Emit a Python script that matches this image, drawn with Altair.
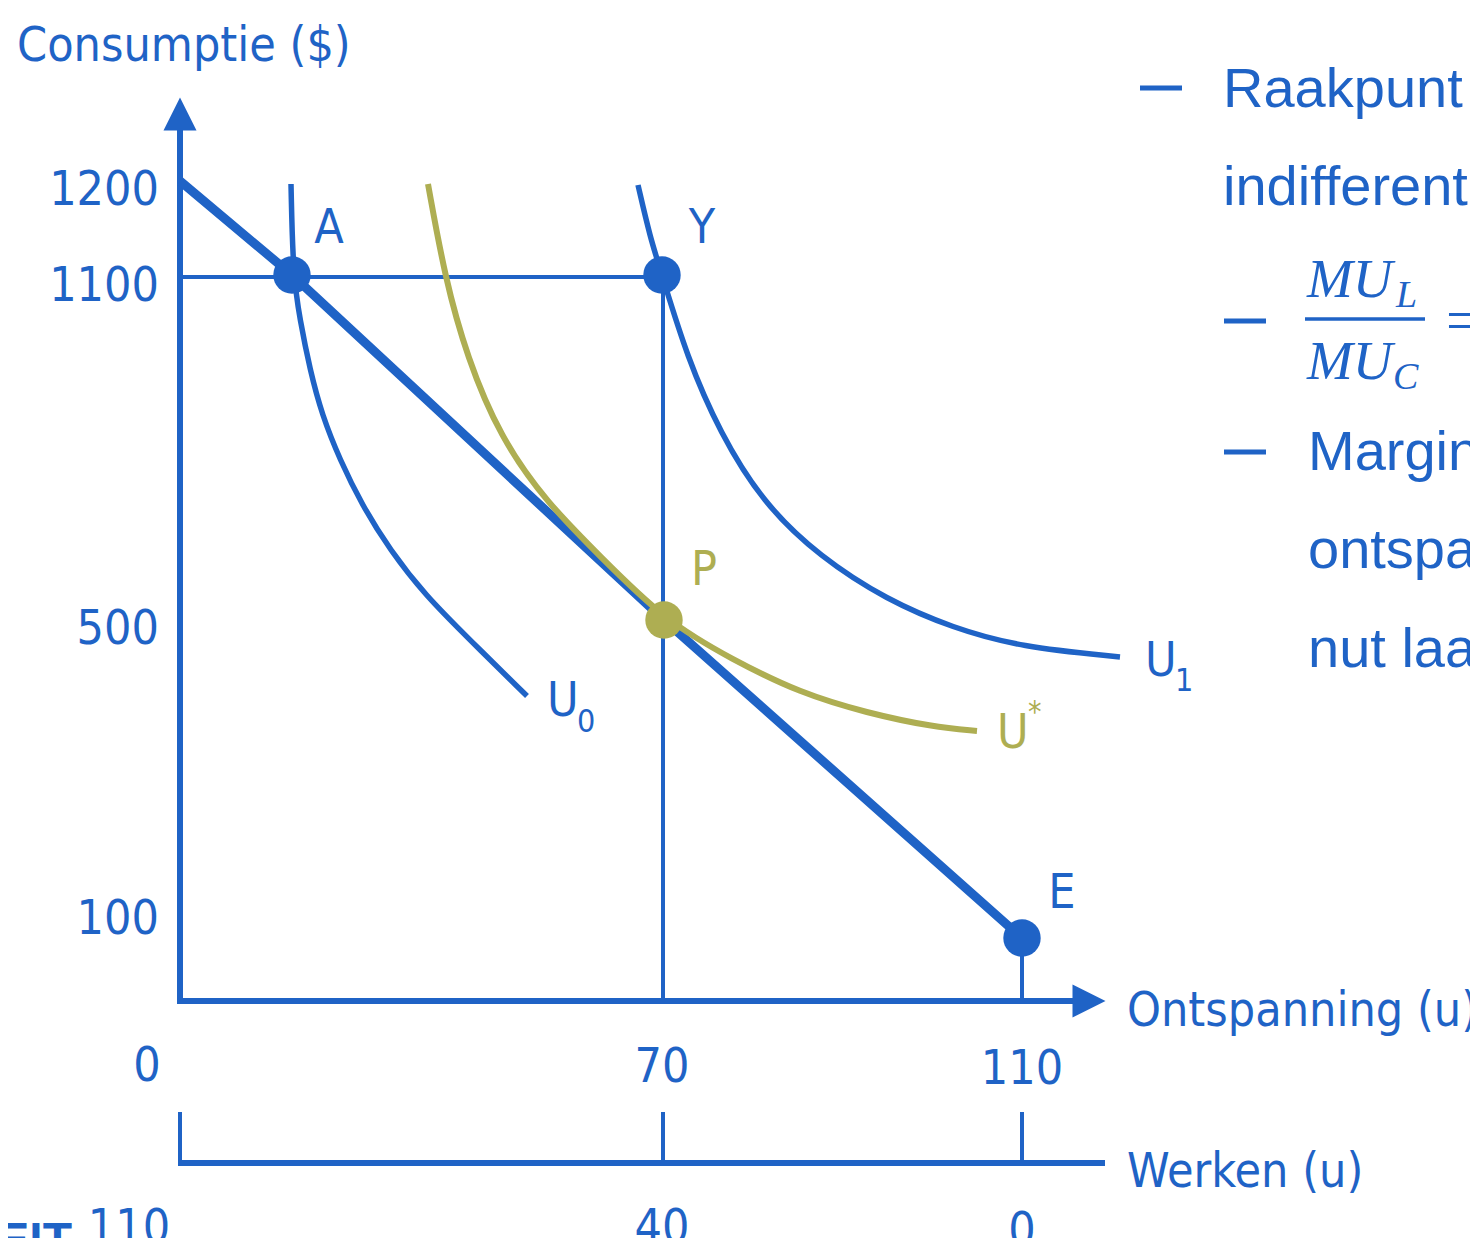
import altair as alt
import pandas as pd

BLUE = "#1F63C6"
OLIVE = "#AEAE52"
NARROW = "DejaVu Sans Condensed"
SANS = "Liberation Sans"
SERIF = "Liberation Serif"

# ---------- data: diagram coordinates (x to the right, y downward) ----------
budget_x = [180, 292, 664, 1022]
budget_y = [181, 275, 620, 938]

u0_x = [291, 293, 300, 310, 322, 340, 362, 390, 425, 470, 527]
u0_y = [184, 275, 320, 370, 415, 460, 505, 550, 595, 640, 696]

u1_x = [638, 650, 662, 687, 720, 763, 820, 887, 953, 1020, 1120]
u1_y = [185, 237, 275, 357, 433, 503, 557, 600, 628, 647, 657]

ustar_x = [428, 445, 467, 500, 547, 600, 664, 733, 800, 867, 933, 977]
ustar_y = [184, 278, 357, 437, 503, 556, 620, 660, 693, 713, 727, 731]

dot_names = ["A", "Y", "E"]
dot_x = [292, 662, 1022]
dot_y = [275, 275, 938]
p_name, p_x, p_y = ["P"], [664], [620]

# axis lines: x0, x1, y0, y1
axis_x0 = [180, 177, 178]
axis_x1 = [180, 1078, 1105]
axis_y0 = [1003, 1001, 1163]
axis_y1 = [125, 1001, 1163]

# guide lines and the ticks of the Werken axis
guide_x0 = [180, 663, 1022, 180, 663, 1022]
guide_x1 = [662, 663, 1022, 180, 663, 1022]
guide_y0 = [277, 277, 938, 1112, 1112, 1112]
guide_y1 = [277, 1001, 1001, 1163, 1163, 1163]

arrow_x = [180, 1089]
arrow_y = [114, 1001]

# tick labels
cons_labels = ["1200", "1100", "500", "100"]
cons_base = [205, 301, 644, 934]
ont_labels = ["0", "70", "110"]
ont_pos = [147, 662, 1022]
ont_base = [1081, 1082, 1084]
werk_labels = ["110", "40", "0"]
werk_pos = [129, 662, 1022]
werk_base = [1243, 1243, 1246]

# right-hand bullet text
bullet_dash_x0 = [1140, 1224, 1224]
bullet_dash_x1 = [1182, 1266, 1266]
bullet_dash_y = [88, 321, 452]
bullet_text = ["Raakpunt van", "indifferentiecurve", "Marginaal nut van", "ontspanning", "nut laag"]
bullet_x = [1223, 1223, 1308, 1308, 1308]
bullet_base = [107, 205, 470, 568, 667]


def df(**cols):
    return pd.DataFrame(cols)


X = alt.Scale(domain=[8, 1470])
Y = alt.Scale(domain=[8, 1238], reverse=True)


def xy(data, xcol="x", ycol="y"):
    return dict(x=alt.X(f"{xcol}:Q", scale=X, axis=None), y=alt.Y(f"{ycol}:Q", scale=Y, axis=None))


def line(xs, ys, color, width, interp="linear"):
    d = df(x=xs, y=ys, o=list(range(len(xs))))
    return alt.Chart(d).mark_line(color=color, strokeWidth=width, interpolate=interp, strokeCap="butt").encode(
        **xy(d), order="o:Q")


def rules(x0, x1, y0, y1, width, color=BLUE):
    d = df(x=x0, x2=x1, y=y0, y2=y1)
    return alt.Chart(d).mark_rule(color=color, strokeWidth=width, strokeCap="butt").encode(
        x=alt.X("x:Q", scale=X, axis=None), x2="x2:Q",
        y=alt.Y("y:Q", scale=Y, axis=None), y2="y2:Q")


def text(ts, xs, ys, size, align="left", color=BLUE, font=NARROW, style="normal", weight="normal"):
    d = df(t=ts, x=xs, y=ys)
    return alt.Chart(d).mark_text(align=align, baseline="alphabetic", font=font, fontSize=size,
                                  color=color, fontStyle=style, fontWeight=weight).encode(
        **xy(d), text="t:N")


layers = []
# guides and axes
layers.append(rules(guide_x0, guide_x1, guide_y0, guide_y1, 4))
layers.append(rules(axis_x0, axis_x1, axis_y0, axis_y1, 6))
ad = df(x=arrow_x, y=arrow_y)
layers.append(alt.Chart(ad.iloc[[0]]).mark_point(filled=True, opacity=1, color=BLUE, size=1089,
                                                  shape="M-1,1L0,-1L1,1Z").encode(**xy(ad)))
layers.append(alt.Chart(ad.iloc[[1]]).mark_point(filled=True, opacity=1, color=BLUE, size=1089,
                                                  shape="M-1,-1L1,0L-1,1Z").encode(**xy(ad)))
# curves
layers.append(line(u0_x, u0_y, BLUE, 5.5, "basis"))
layers.append(line(u1_x, u1_y, BLUE, 5.5, "basis"))
layers.append(line(budget_x, budget_y, BLUE, 9))
layers.append(line(ustar_x, ustar_y, OLIVE, 6, "basis"))
# dots
dd = df(n=dot_names, x=dot_x, y=dot_y)
layers.append(alt.Chart(dd).mark_circle(color=BLUE, opacity=1, size=1400).encode(**xy(dd)))
pd_ = df(n=p_name, x=p_x, y=p_y)
layers.append(alt.Chart(pd_).mark_circle(color=OLIVE, opacity=1, size=1400).encode(**xy(pd_)))

# labels
layers.append(text(["Consumptie ($)"], [17], [61], 48))
layers.append(text(cons_labels, [159] * 4, cons_base, 48, align="right"))
layers.append(text(ont_labels, ont_pos, ont_base, 48, align="center"))
layers.append(text(werk_labels, werk_pos, werk_base, 48, align="center"))
layers.append(text(["Ontspanning (u)"], [1127], [1026], 48))
layers.append(text(["Werken (u)"], [1127], [1187], 48))
layers.append(text(["A", "Y", "E"], [329, 702, 1062], [243, 243, 908], 48, align="center"))
layers.append(text(["P"], [704], [585], 48, align="center", color=OLIVE))
layers.append(text(["U", "U"], [547, 1145], [716, 676], 48))
layers.append(text(["0", "1"], [577, 1175], [732, 691], 32))
layers.append(text(["U"], [997], [748], 48, color=OLIVE))
layers.append(text(["*"], [1028], [722], 30, color=OLIVE))
layers.append(text(["TEIT"], [72], [1256], 48, align="right", font=SANS, weight="bold"))

# right-hand text
layers.append(rules(bullet_dash_x0, bullet_dash_x1, bullet_dash_y, bullet_dash_y, 5))
layers.append(text(bullet_text, bullet_x, bullet_base, 56, font=SANS))
layers.append(rules([1305], [1425], [319], [319], 3.5))
layers.append(text(["MU", "MU"], [1307, 1307], [297, 379], 55, font=SERIF, style="italic"))
layers.append(text(["L", "C"], [1396, 1393], [307, 389], 38, font=SERIF, style="italic"))
layers.append(text(["="], [1446], [340], 60, font=SERIF))

chart = alt.layer(*layers).properties(
    width=1462, height=1230, padding=0, autosize=alt.AutoSizeParams(type="none")
).configure_view(stroke=None)

chart.save("out.html", embed_options={"renderer": "svg", "actions": False})
